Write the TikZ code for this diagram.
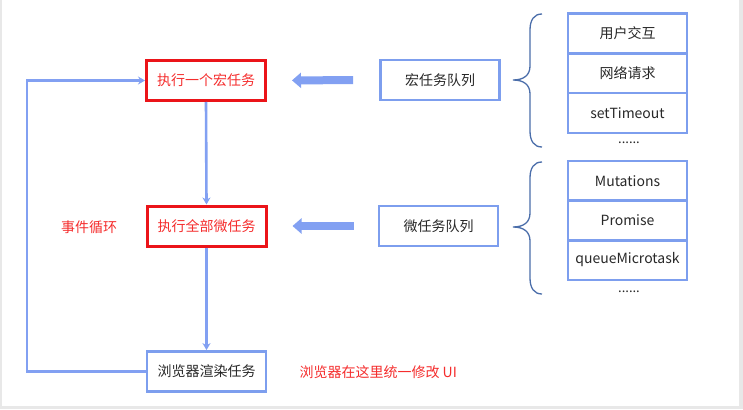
\documentclass[tikz,border=0pt]{standalone}
\usepackage{fontspec}
\setmainfont{Noto Sans CJK SC}
\usetikzlibrary{arrows.meta}
\definecolor{lblue}{RGB}{130,160,242}
\definecolor{bblue}{RGB}{125,158,238}
\definecolor{rred}{RGB}{235,20,25}
\definecolor{tred}{RGB}{245,45,45}
\definecolor{braceblue}{RGB}{75,110,170}
\definecolor{txt}{RGB}{40,40,40}
\tikzset{
  redbox/.style={draw=rred, line width=3pt, minimum width=119pt, minimum height=40pt, inner sep=0pt, text=tred, font=\fontsize{14}{15}\selectfont},
  bluebox/.style={draw=bblue, line width=2.8pt, minimum width=119pt, minimum height=40pt, inner sep=0pt, text=txt, font=\fontsize{14}{15}\selectfont},
  cellbox/.style={draw=bblue, line width=2.6pt, minimum width=119pt, minimum height=40pt, inner sep=0pt, text=txt, font=\fontsize{14}{15}\selectfont},
  flow/.style={draw=lblue, line width=2.6pt, -{Stealth[length=7pt,width=8pt]}},
  bigarrow/.style={draw=lblue, line width=8pt, -{Triangle[length=9pt,width=15pt]}},
  bracepath/.style={draw=braceblue, line width=1.3pt},
  redtext/.style={text=tred, font=\fontsize{14}{15}\selectfont},
  dots/.style={text=txt, font=\fontsize{13}{14}\selectfont}
}
\begin{document}
\begin{tikzpicture}[x=1pt,y=-1pt]
\fill[gray!18] (0,0) rectangle (743,409);
\fill[white] (1.5,0) rectangle (739,406);
\useasboundingbox (0,0) rectangle (743,409);

% main column
\node[redbox] (m1) at (206,80.5) {执行一个宏任务};
\node[redbox] (m2) at (206.5,226) {执行全部微任务};
\node[bluebox] (m3) at (206.5,371.5) {浏览器渲染任务};

% queues
\node[bluebox] (q1) at (440,80) {宏任务队列};
\node[bluebox] (q2) at (438.5,226) {微任务队列};

% stacks
\node[cellbox] (a1) at (627.5,33.5) {用户交互};
\node[cellbox] (a2) at (627.5,73) {网络请求};
\node[cellbox] (a3) at (627.5,113) {setTimeout};
\node[dots] (ad) at (629,143) {......};

\node[cellbox] (b1) at (627.5,181) {Mutations};
\node[cellbox] (b2) at (627.5,220.5) {Promise};
\node[cellbox] (b3) at (627.5,260) {queueMicrotask};
\node[dots] (bd) at (629,292) {......};

% labels
\node[redtext] (loop) at (89,227) {事件循环};
\node[redtext, anchor=west] (ui) at (296,372) {浏览器在这里统一修改 UI};

% flow arrows
\draw[flow] (m1.south) -- (m2.north);
\draw[flow] (m2.south) -- (m3.north);
\draw[flow] (m3.west) -- (27,371.5) |- (m1.west);

% big arrows
\draw[bigarrow, shorten <=26pt, shorten >=25pt] (q1.west) -- (m1.east);
\draw[bigarrow, shorten <=24pt, shorten >=25pt] (q2.west) -- (m2.east);

% braces
\draw[bracepath] (542,14) .. controls (534,14) and (530,20) .. (530,30) -- (530,66)
  .. controls (530,75) and (524,80) .. (513,80)
  .. controls (524,80) and (530,85) .. (530,94) -- (530,131)
  .. controls (530,141) and (534,147) .. (542,147);
\draw[bracepath] (542,162) .. controls (534,162) and (530,168) .. (530,178) -- (530,213)
  .. controls (530,222) and (524,227) .. (513,227)
  .. controls (524,227) and (530,232) .. (530,241) -- (530,278)
  .. controls (530,288) and (534,294) .. (542,294);
\end{tikzpicture}
\end{document}
